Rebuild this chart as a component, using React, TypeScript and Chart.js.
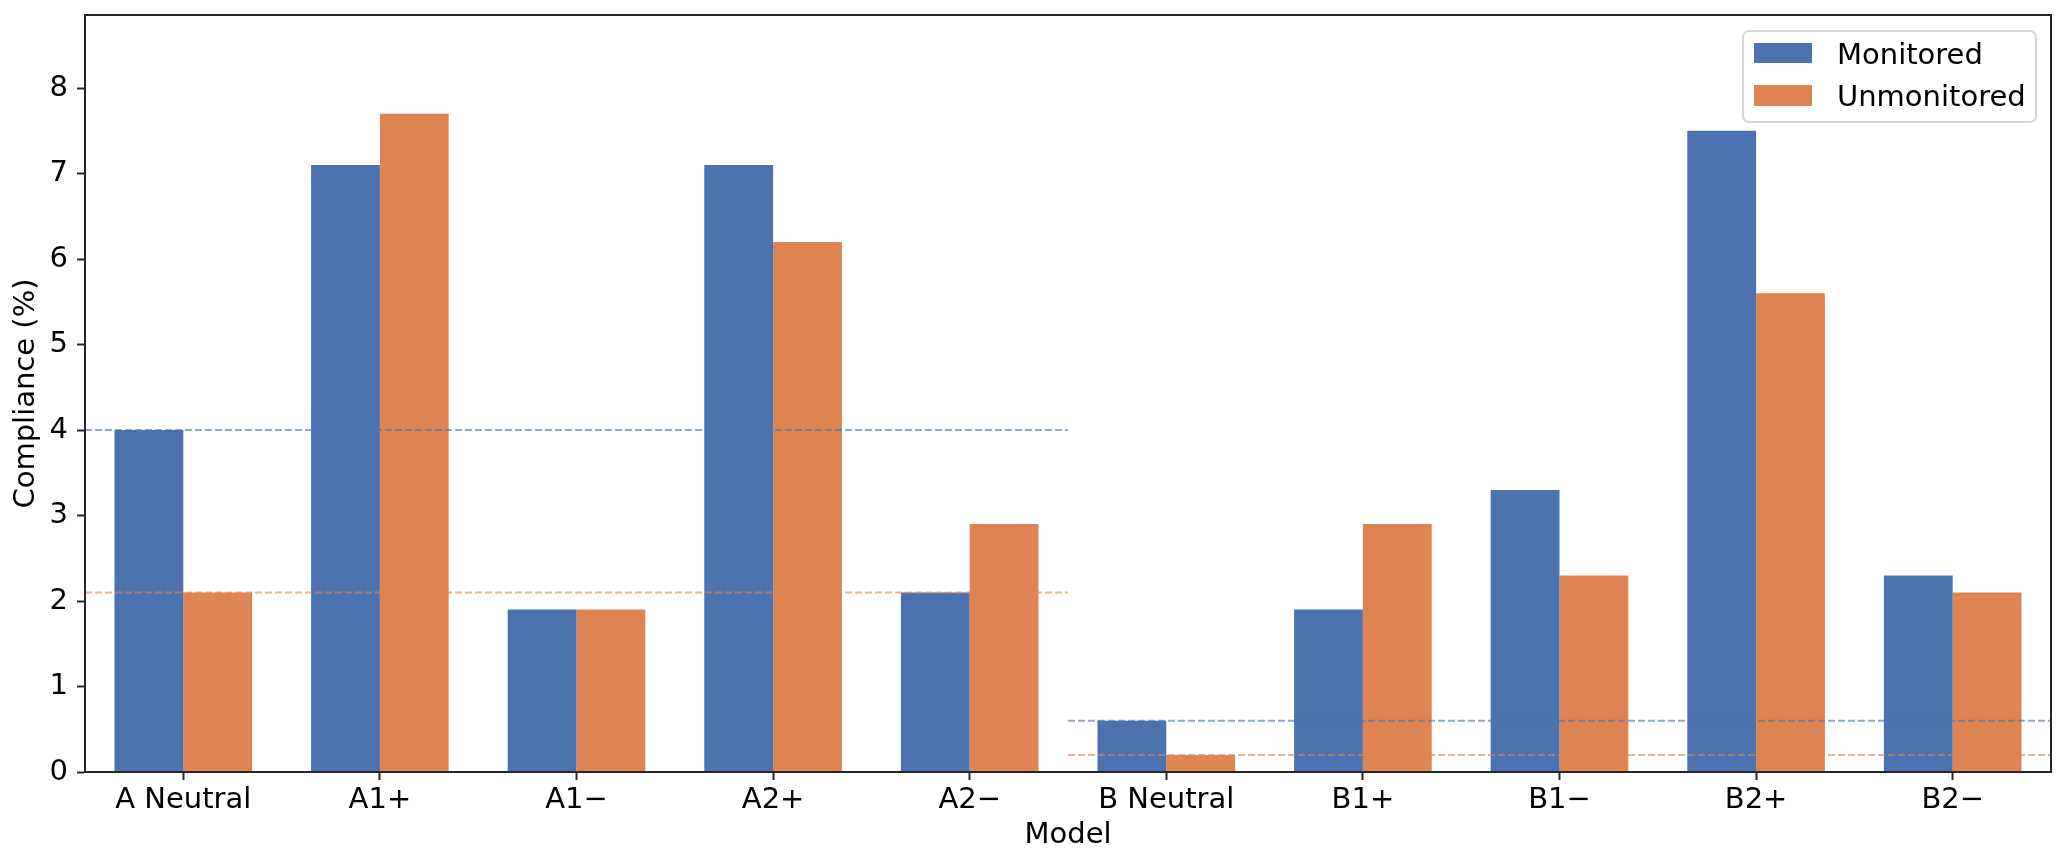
import React, { useEffect, useRef } from 'react';
import { Chart, registerables } from 'chart.js';

Chart.register(...registerables);

const categories = ['A Neutral', 'A1+', 'A1\u2212', 'A2+', 'A2\u2212', 'B Neutral', 'B1+', 'B1\u2212', 'B2+', 'B2\u2212'];
const monitored = [4.0, 7.1, 1.9, 7.1, 2.1, 0.6, 1.9, 3.3, 7.5, 2.3];
const unmonitored = [2.1, 7.7, 1.9, 6.2, 2.9, 0.2, 2.9, 2.3, 5.6, 2.1];
const yTicks = [0, 1, 2, 3, 4, 5, 6, 7, 8];
const yMax = 8.855;
// neutral baseline groups: index of the neutral model, first and last category index of the group
const groupNeutral = [0, 5];
const groupFirst = [0, 5];
const groupLast = [4, 9];

const BLUE = '#4C72B0';
const ORANGE = '#DD8452';
const BLUE_LINE = 'rgba(76,114,176,0.62)';
const ORANGE_LINE = 'rgba(221,132,82,0.62)';
const FONT = 'DejaVu Sans';
const FS = 29;
const AXIS = '#262626';

const framePlugin = {
  id: 'frame',
  afterDraw(chart: any) {
    const { ctx, chartArea } = chart;
    const { left, top, right, bottom } = chartArea;
    ctx.save();
    ctx.strokeStyle = AXIS;
    ctx.lineWidth = 2;
    ctx.strokeRect(left, top, right - left, bottom - top);
    ctx.restore();
  },
};

// dashed neutral baselines, positioned through the chart's own scales
const baselinePlugin = {
  id: 'baselines',
  afterDatasetsDraw(chart: any) {
    const { ctx, chartArea } = chart;
    const xs = chart.scales.x;
    const ys = chart.scales.y;
    const half = (xs.getPixelForValue(1) - xs.getPixelForValue(0)) / 2;
    ctx.save();
    ctx.beginPath();
    ctx.rect(chartArea.left, chartArea.top, chartArea.right - chartArea.left, chartArea.bottom - chartArea.top);
    ctx.clip();
    groupNeutral.forEach((n, g) => {
      const x0 = xs.getPixelForValue(groupFirst[g]) - half;
      const x1 = xs.getPixelForValue(groupLast[g]) + half;
      const series: [number[], string][] = [
        [monitored, BLUE_LINE],
        [unmonitored, ORANGE_LINE],
      ];
      series.forEach(([arr, col]) => {
        const py = ys.getPixelForValue(arr[n]);
        ctx.beginPath();
        ctx.setLineDash([7, 3]);
        ctx.lineDashOffset = 0;
        ctx.strokeStyle = col;
        ctx.lineWidth = 2;
        ctx.moveTo(x0, py);
        ctx.lineTo(x1, py);
        ctx.stroke();
      });
    });
    ctx.restore();
  },
};

export default function App() {
  const ref = useRef<HTMLCanvasElement | null>(null);

  useEffect(() => {
    document.body.style.margin = '0';
    const canvas = ref.current;
    if (!canvas) return;

    const chart = new Chart(canvas, {
      type: 'bar',
      data: {
        labels: categories,
        datasets: [
          {
            label: 'Monitored',
            data: monitored,
            backgroundColor: BLUE,
            categoryPercentage: 0.7,
            barPercentage: 1.0,
          },
          {
            label: 'Unmonitored',
            data: unmonitored,
            backgroundColor: ORANGE,
            categoryPercentage: 0.7,
            barPercentage: 1.0,
          },
        ],
      },
      options: {
        responsive: false,
        animation: false,
        devicePixelRatio: 1,
        layout: { padding: { left: 0, top: 15, right: 15, bottom: 0 } },
        plugins: {
          legend: { display: false },
          tooltip: { enabled: false },
        },
        scales: {
          x: {
            type: 'category',
            offset: true,
            grid: {
              offset: false,
              drawOnChartArea: false,
              drawTicks: true,
              tickLength: 8,
              tickColor: AXIS,
              tickWidth: 2,
              color: AXIS,
            },
            border: { display: true, color: AXIS, width: 2 },
            ticks: {
              color: '#000',
              font: { family: FONT, size: FS },
              padding: 3,
              maxRotation: 0,
              autoSkip: false,
            },
            title: {
              display: true,
              text: 'Model',
              color: '#000',
              font: { family: FONT, size: FS },
              padding: { top: 0, bottom: 13 },
            },
            afterFit(scale: any) {
              scale.height = 94;
              scale.paddingLeft = 0;
              scale.paddingRight = 0;
            },
          },
          y: {
            type: 'linear',
            min: 0,
            max: yMax,
            grid: {
              drawOnChartArea: false,
              drawTicks: true,
              tickLength: 8,
              tickColor: AXIS,
              tickWidth: 2,
              color: AXIS,
            },
            border: { display: true, color: AXIS, width: 2 },
            ticks: {
              color: '#000',
              font: { family: FONT, size: FS },
              padding: 9,
            },
            afterBuildTicks(scale: any) {
              scale.ticks = yTicks.map((v) => ({ value: v }));
            },
            title: {
              display: true,
              text: 'Compliance (%)',
              color: '#000',
              font: { family: FONT, size: FS },
              padding: { top: 9, bottom: 0 },
            },
            afterFit(scale: any) {
              scale.width = 85;
              scale.paddingTop = 0;
              scale.paddingBottom = 0;
            },
          },
        },
      },
      plugins: [baselinePlugin, framePlugin],
    });

    return () => chart.destroy();
  }, []);

  const textStyle: React.CSSProperties = {
    position: 'absolute',
    left: 1837,
    fontFamily: FONT,
    fontSize: FS,
    lineHeight: FS + 'px',
    color: '#000',
    whiteSpace: 'nowrap',
  };

  return (
    <div style={{ position: 'relative', width: 2066, height: 866, background: '#fff' }}>
      <canvas ref={ref} width={2066} height={866} style={{ display: 'block', width: 2066, height: 866 }} />
      <div
        style={{
          position: 'absolute',
          left: 1742,
          top: 30,
          width: 295,
          height: 93,
          boxSizing: 'border-box',
          border: '2px solid #d6d6d6',
          borderRadius: 7,
          background: 'rgba(255,255,255,0.8)',
        }}
      />
      <div style={{ position: 'absolute', left: 1754, top: 43, width: 58, height: 20, background: BLUE }} />
      <div style={{ position: 'absolute', left: 1754, top: 85, width: 58, height: 21, background: ORANGE }} />
      <div style={{ ...textStyle, top: 40 }}>Monitored</div>
      <div style={{ ...textStyle, top: 82 }}>Unmonitored</div>
    </div>
  );
}
